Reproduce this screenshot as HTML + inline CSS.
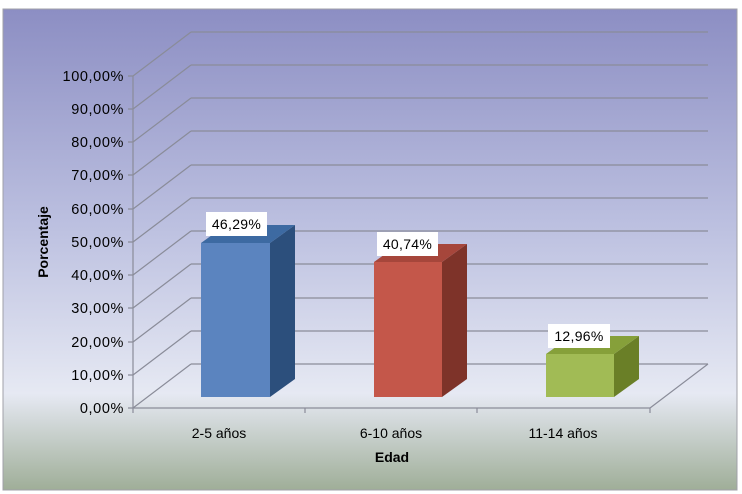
<!DOCTYPE html><html><head><style>body{margin:0;background:#fff}svg{display:block}text{font-family:"Liberation Sans",sans-serif}</style></head><body>
<svg width="742" height="494" xmlns="http://www.w3.org/2000/svg">
<defs><linearGradient id="bg" x1="0" y1="0" x2="0" y2="1">
<stop offset="0" stop-color="#8c8ec3"/><stop offset="0.45" stop-color="#bcc0e0"/><stop offset="0.8" stop-color="#e6e9f3"/><stop offset="1" stop-color="#9fae98"/></linearGradient></defs>
<rect x="3" y="9" width="734" height="481" fill="url(#bg)" stroke="#a0a0a8" stroke-width="1"/>
<g stroke="#8a8c99" stroke-width="1.2" fill="none">
<path d="M191 32H708M191 65H708M191 98H708M191 131H708M191 165H708M191 198H708M191 231H708M191 264H708M191 298H708M191 331H708M191 364H708"/>
<path d="M133 76L191 32M133 109L191 65M133 142L191 98M133 175L191 131M133 209L191 165M133 242L191 198M133 275L191 231M133 308L191 264M133 342L191 298M133 375L191 331M133 408L191 364"/>
<path d="M133 76V408H650L708 364M133 408V413M305 408V413M477 408V413M650 408V413M128 76H133M128 109H133M128 142H133M128 175H133M128 209H133M128 242H133M128 275H133M128 308H133M128 342H133M128 375H133M128 408H133"/>
</g>
<g>
<rect x="201" y="243" width="69" height="154" fill="#5b84bf"/><polygon points="270,243 295,225 295,379 270,397" fill="#2c4f7c"/><polygon points="201,243 226,225 295,225 270,243" fill="#3d6aa2"/>
<rect x="374" y="262" width="68" height="135" fill="#c4574a"/><polygon points="442,262 467,244 467,379 442,397" fill="#7e3329"/><polygon points="374,262 399,244 467,244 442,262" fill="#a6463b"/>
<rect x="546" y="354" width="68" height="43" fill="#a1bb55"/><polygon points="614,354 639,336 639,379 614,397" fill="#6a7f27"/><polygon points="546,354 571,336 639,336 614,354" fill="#86a03a"/>
</g>
<g font-size="14" fill="#000" letter-spacing="0.3">
<rect x="206" y="212" width="61" height="24" fill="#fff"/><text x="236.5" y="229" text-anchor="middle">46,29%</text>
<rect x="377" y="232" width="61" height="24" fill="#fff"/><text x="407.5" y="249" text-anchor="middle">40,74%</text>
<rect x="548" y="324" width="62" height="24" fill="#fff"/><text x="579" y="341" text-anchor="middle">12,96%</text>
</g>
<g font-size="14.5" text-anchor="end" fill="#000" letter-spacing="0.6">
<text x="124" y="81">100,00%</text><text x="124" y="114">90,00%</text><text x="124" y="147">80,00%</text><text x="124" y="180">70,00%</text><text x="124" y="214">60,00%</text><text x="124" y="247">50,00%</text><text x="124" y="280">40,00%</text><text x="124" y="313">30,00%</text><text x="124" y="347">20,00%</text><text x="124" y="380">10,00%</text><text x="124" y="413">0,00%</text>
</g>
<g font-size="14" text-anchor="middle" fill="#000">
<text x="219" y="438">2-5 años</text><text x="391" y="438">6-10 años</text><text x="563" y="438">11-14 años</text>
<text x="392" y="462" font-weight="bold">Edad</text>
<text transform="translate(48,242) rotate(-90)" font-weight="bold">Porcentaje</text>
</g>
</svg></body></html>
